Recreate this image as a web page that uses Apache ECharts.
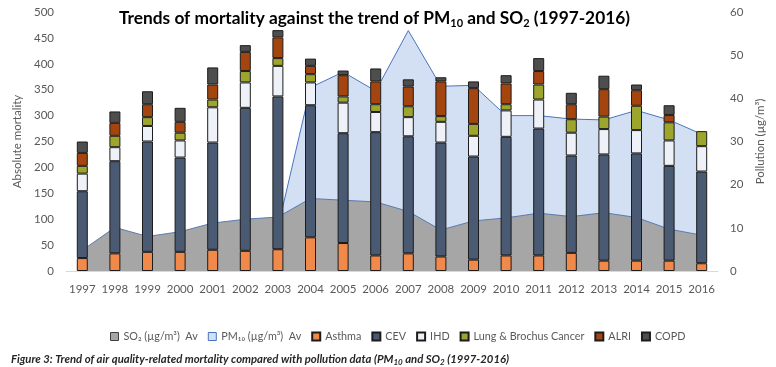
<!DOCTYPE html>
<html>
<head>
<meta charset="utf-8">
<script src="https://cdn.jsdelivr.net/npm/echarts@6/dist/echarts.min.js"></script>
<style>
  html, body { margin: 0; padding: 0; background: #fff; }
  #chart { width: 776px; height: 367px; }
</style>
</head>
<body>
<div id="chart"></div>
<script>
var years = ['1997', '1998', '1999', '2000', '2001', '2002', '2003', '2004', '2005', '2006',
             '2007', '2008', '2009', '2010', '2011', '2012', '2013', '2014', '2015', '2016'];

// mortality (left axis)
var asthma = [25, 34, 37, 37, 41, 39, 42, 65, 54, 30, 34, 28, 22, 30, 30, 35, 20, 20, 20, 15];
var cev    = [129, 178, 213, 182, 207, 276, 295, 255, 212, 238, 226, 220, 199, 229, 245, 188, 205, 207, 183, 177];
var ihd    = [34, 27, 30, 33, 68, 49, 59, 44, 59, 39, 37, 40, 40, 51, 56, 44, 49, 45, 49, 49];
var lung   = [15, 22, 17, 15, 15, 22, 15, 16, 12, 15, 21, 11, 23, 12, 29, 26, 24, 47, 35, 29];
var alri   = [25, 25, 25, 21, 29, 37, 40, 16, 41, 44, 38, 67, 69, 40, 26, 29, 53, 30, 14, null];
var copd   = [22, 22, 25, 27, 33, 13, 14, 14, 9, 25, 14, 8, 13, 16, 25, 22, 26, 11, 19, null];

// pollution (right axis)
var so2  = [4.8, 10.1, 8.0, 9.1, 11.1, 12.0, 12.5, 16.8, 16.4, 16.0, 13.8, 9.5, 11.6, 12.3, 13.4, 12.6, 13.5, 12.4, 9.7, 8.3];
var pm10 = [null, null, null, null, null, null, 10, 42.5, 46.1, 41.7, 55.7, 42.8, 43.0, 36.0, 36.0, 35.2, 35.0, 37.2, 35.0, 31.7];

var leftTicks = { min: 0, max: 500, interval: 50 };
var rightTicks = { min: 0, max: 60, interval: 10 };

var FONT = 'Lato';
var textGray = '#595959';

function barSeries(name, data, color) {
    return {
        name: name,
        type: 'bar',
        stack: 'mortality',
        yAxisIndex: 0,
        barWidth: 11,
        z: 3,
        itemStyle: { color: color, borderColor: '#1c1c1c', borderWidth: 1 },
        data: data
    };
}

var myChart = echarts.init(document.getElementById('chart'));

myChart.setOption({
    animation: false,
    textStyle: { fontFamily: FONT },
    title: [{
        text: '{a|Trends of mortality against the trend of PM}{s|10}{a| and SO}{s|2}{a| (1997-2016)}',
        left: 114,
        top: 2,
        textStyle: {
            rich: {
                a: { fontFamily: FONT, fontWeight: 'bold', fontSize: 17.3, color: '#000', lineHeight: 22 },
                s: { fontFamily: FONT, fontWeight: 'bold', fontSize: 11, color: '#000', lineHeight: 14, verticalAlign: 'bottom' }
            }
        }
    }, {
        text: '{b|Figure 3:}{i| Trend of air quality-related mortality compared with pollution data (PM}{s|10}{i| and SO}{s|2}{i| (1997-2016)}',
        left: 6,
        top: 347,
        textStyle: {
            rich: {
                b: { fontFamily: FONT, fontStyle: 'italic', fontWeight: 'bold', fontSize: 11.3, color: '#262626', lineHeight: 14 },
                i: { fontFamily: FONT, fontStyle: 'italic', fontSize: 11.3, color: '#262626', lineHeight: 14 },
                s: { fontFamily: FONT, fontStyle: 'italic', fontSize: 8, color: '#262626', lineHeight: 10, verticalAlign: 'bottom' }
            }
        }
    }],
    legend: {
        left: 105,
        top: 326,
        icon: 'rect',
        itemWidth: 8,
        itemHeight: 8,
        itemGap: 10,
        textStyle: { fontFamily: FONT, fontSize: 10.8, color: textGray },
        data: [
            { name: 'SO\u2082 (\u00b5g/m\u00b3)  Av', itemStyle: { color: '#a6a6a6', borderColor: '#404040', borderWidth: 1 } },
            { name: 'PM\u2081\u2080 (\u00b5g/m\u00b3)  Av', itemStyle: { color: '#d6e0f3', borderColor: '#4472c4', borderWidth: 1 } },
            'Asthma', 'CEV', 'IHD', 'Lung & Brochus Cancer', 'ALRI', 'COPD'
        ]
    },
    grid: { left: 66, right: 58, top: 12, bottom: 96 },
    xAxis: {
        type: 'category',
        data: years,
        axisLine: { lineStyle: { color: '#d9d9d9' } },
        axisTick: { show: false },
        axisLabel: { fontFamily: FONT, fontSize: 11.5, color: textGray, margin: 12, interval: 0 }
    },
    yAxis: [{
        type: 'value',
        min: leftTicks.min,
        max: leftTicks.max,
        interval: leftTicks.interval,
        name: 'Absolute mortality',
        nameLocation: 'middle',
        nameRotate: 90,
        nameGap: 42,
        nameTextStyle: { fontFamily: FONT, fontSize: 11.5, color: textGray },
        splitLine: { show: false },
        axisLine: { show: false },
        axisTick: { show: false },
        axisLabel: { fontFamily: FONT, fontSize: 11.5, color: textGray, margin: 12 }
    }, {
        type: 'value',
        min: rightTicks.min,
        max: rightTicks.max,
        interval: rightTicks.interval,
        name: 'Pollution (\u00b5g/m\u00b3)',
        nameLocation: 'middle',
        nameRotate: 90,
        nameGap: 33,
        nameTextStyle: { fontFamily: FONT, fontSize: 11.5, color: textGray },
        splitLine: { show: false },
        axisLine: { show: false },
        axisTick: { show: false },
        axisLabel: { fontFamily: FONT, fontSize: 11.5, color: textGray, margin: 12 }
    }],
    series: [{
        name: 'PM\u2081\u2080 (\u00b5g/m\u00b3)  Av',
        type: 'line',
        yAxisIndex: 1,
        symbol: 'none',
        z: 1,
        itemStyle: { color: '#d6e0f3' },
        lineStyle: { color: '#4a74bf', width: 1 },
        areaStyle: { color: '#d3dff2', opacity: 1 },
        data: pm10
    }, {
        name: 'SO\u2082 (\u00b5g/m\u00b3)  Av',
        type: 'line',
        yAxisIndex: 1,
        symbol: 'none',
        z: 2,
        itemStyle: { color: '#a6a6a6' },
        lineStyle: { color: '#5a7ab0', width: 1 },
        areaStyle: { color: '#a6a6a6', opacity: 1 },
        data: so2
    },
        barSeries('Asthma', asthma, '#f0894a'),
        barSeries('CEV', cev, '#4a5a72'),
        barSeries('IHD', ihd, '#eef1f7'),
        barSeries('Lung & Brochus Cancer', lung, '#9ea52c'),
        barSeries('ALRI', alri, '#a4450f'),
        barSeries('COPD', copd, '#4e4e4e')
    ]
});
</script>
</body>
</html>
